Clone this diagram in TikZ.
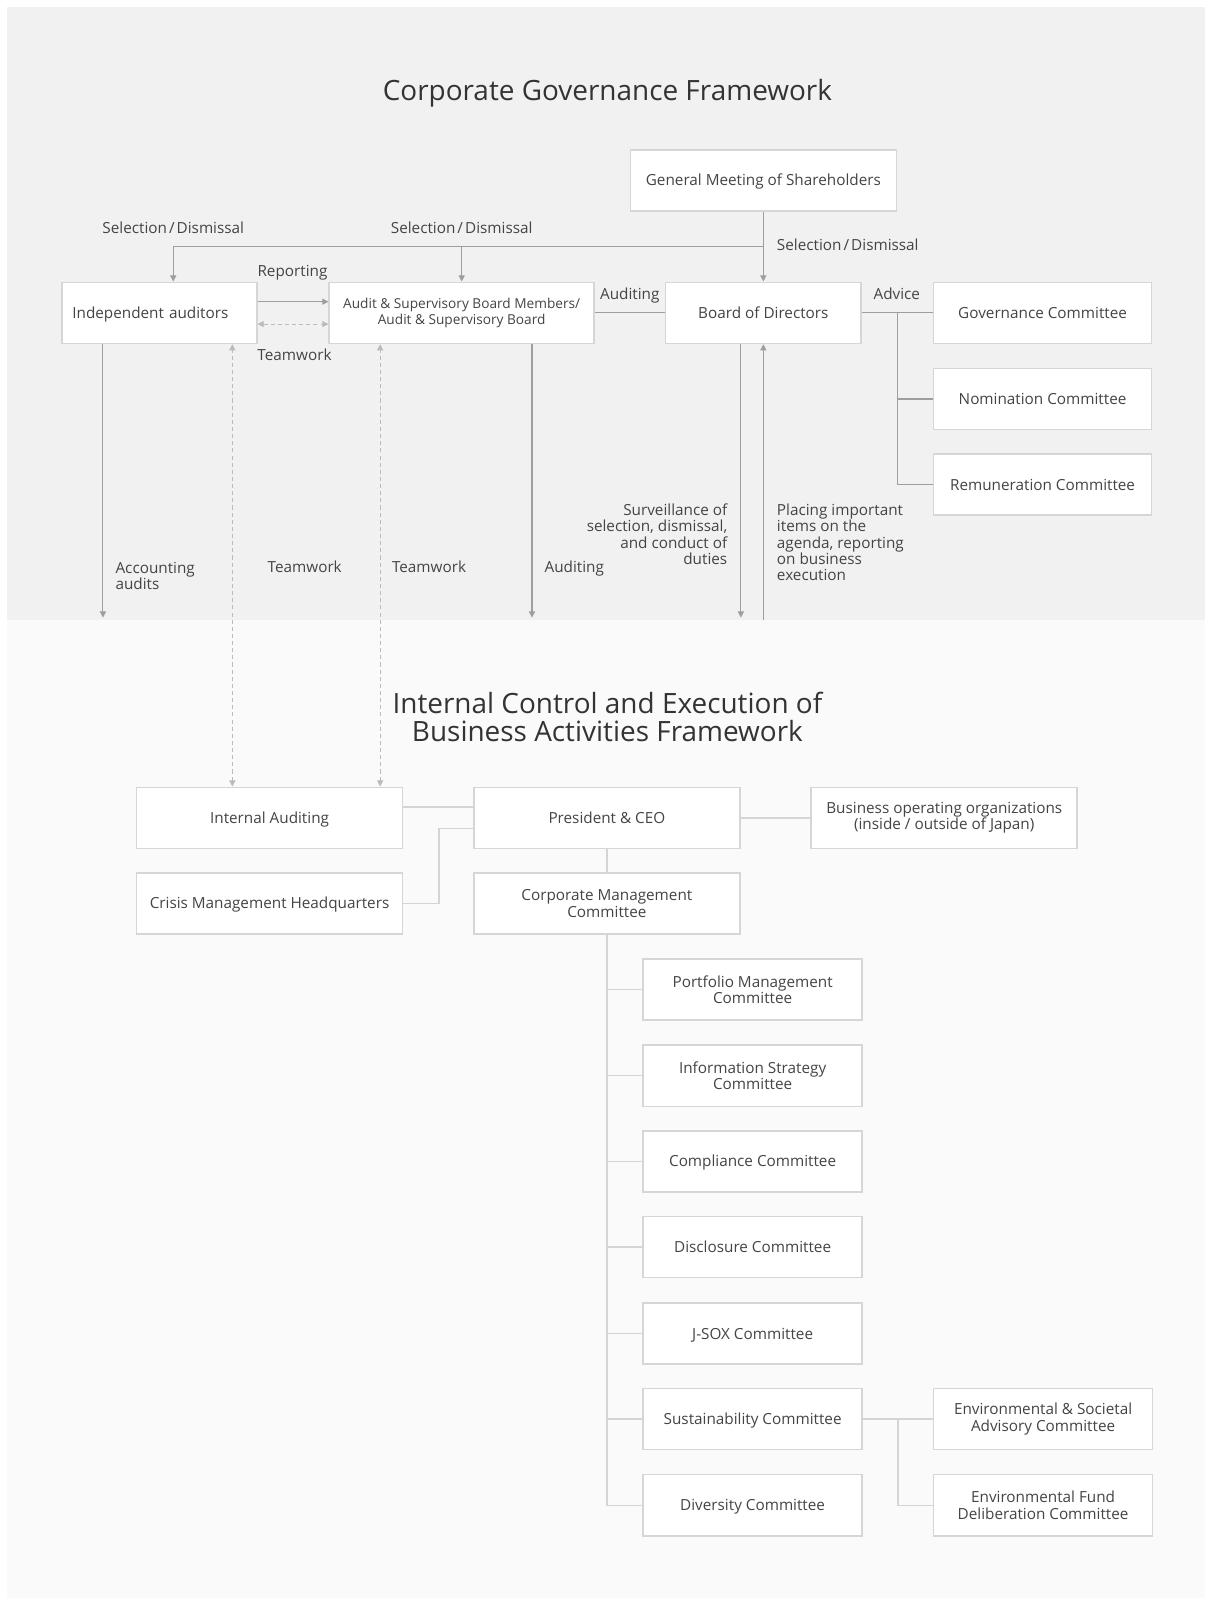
\documentclass[tikz,border=0pt]{standalone}
\usepackage{fontspec}
\setmainfont{Open Sans}
\usetikzlibrary{arrows.meta, calc}

\definecolor{topbg}{HTML}{F1F1F1}
\definecolor{lowbg}{HTML}{FAFAFA}
\definecolor{boxline}{HTML}{D6D6D6}
\definecolor{arrowgray}{HTML}{9E9E9E}
\definecolor{linkgray}{HTML}{D4D4D4}
\definecolor{dashgray}{HTML}{BBBBBB}
\definecolor{txt}{HTML}{444444}
\definecolor{titletxt}{HTML}{333333}

\newcommand{\boxfont}{\fontsize{7.5}{8}\selectfont}
\newcommand{\smallboxfont}{\fontsize{6.7}{8}\selectfont}
\newcommand{\titlefont}{\fontsize{13.7}{13.5}\selectfont}
\newcommand{\seldis}{Selection\kern1pt/\kern1pt Dismissal}

\begin{document}
\begin{tikzpicture}[x=0.5pt, y=-0.5pt,
  box/.style={draw=boxline, fill=white, line width=0.75pt, minimum width=130.5pt, minimum height=30pt, inner sep=2pt, align=center, text=txt, font=\boxfont},
  single/.style={text height=5.4pt, text depth=0pt},
  committee/.style={box, minimum width=107.5pt},
  lbl/.style={text=txt, font=\boxfont, inner sep=0pt},
  flow/.style={draw=arrowgray, line width=0.5pt, -{Triangle[length=3pt,width=3pt]}},
  plain/.style={draw=arrowgray, line width=0.5pt},
  link/.style={draw=linkgray, line width=0.75pt},
  team/.style={draw=dashgray, line width=0.5pt, dash pattern=on 2pt off 1.5pt, {Triangle[length=3pt,width=3pt]}-{Triangle[length=3pt,width=3pt]}}]

  % Backgrounds of the two frameworks
  \useasboundingbox (0,0) rectangle (1182,1568);
  \fill[topbg] (7,7) rectangle (1182,608);
  \fill[lowbg] (7,608) rectangle (1182,1568);
  \coordinate (edge) at (0,606);
  \coordinate (seam) at (0,608);

  % Titles
  \node[text=titletxt, font=\titlefont, anchor=base] (title1) at (596,99) {Corporate Governance Framework};
  \node[text=titletxt, font=\titlefont, anchor=north, align=center, inner sep=0pt] (title2) at (596,679) {Internal Control and Execution of\\Business Activities Framework};

  % Governance boxes
  \node[box, single] (gms) at (749,177) {General Meeting of Shareholders};
  \node[box, single, minimum width=95.5pt, text width=85.5pt, align=left, inner xsep=5pt] (ind) at (156.5,307) {Independent auditors};
  \node[box, font=\smallboxfont, minimum width=130pt] (asb) at (453,307) {Audit \& Supervisory Board Members/\\Audit \& Supervisory Board};
  \node[box, single, minimum width=96pt] (bod) at (749,307) {Board of Directors};
  \node[box, single, minimum width=107pt] (gov) at (1023,307) {Governance Committee};
  \node[box, single, minimum width=107pt] (nom) at (1023,391.5) {Nomination Committee};
  \node[box, single, minimum width=107pt] (rem) at (1023,475.5) {Remuneration Committee};

  % Execution boxes
  \node[box, single] (ia) at (264.5,802.5) {Internal Auditing};
  \node[box, single] (ceo) at (595.5,802.5) {President \& CEO};
  \node[box] (biz) at (926.5,802.5) {Business operating organizations\\(inside / outside of Japan)};
  \node[box, single] (crisis) at (264.5,886.5) {Crisis Management Headquarters};
  \node[box] (cmc) at (595.5,886.5) {Corporate Management\\Committee};

  % Committees under the Corporate Management Committee
  \node[committee] (port) at (738.5,971) {Portfolio Management\\Committee};
  \node[committee] (info) at (738.5,1055.5) {Information Strategy\\Committee};
  \node[committee, single] (comp) at (738.5,1139.5) {Compliance Committee};
  \node[committee, single] (disc) at (738.5,1223.5) {Disclosure Committee};
  \node[committee, single] (jsox) at (738.5,1308.5) {J-SOX Committee};
  \node[committee, single] (sust) at (738.5,1392.5) {Sustainability Committee};
  \node[committee, single] (div) at (738.5,1477) {Diversity Committee};
  \node[committee] (envsoc) at (1023.5,1392.5) {Environmental \& Societal\\Advisory Committee};
  \node[committee] (envfund) at (1023.5,1477) {Environmental Fund\\Deliberation Committee};

  % Selection / dismissal
  \coordinate (split) at ($(gms.south)!0.5!(bod.north)$);
  \draw[flow] (gms.south) -- (bod.north);
  \draw[flow] (split) -| ([xshift=6.75pt]ind.north);
  \draw[flow] (split -| asb.north) -- (asb.north);
  \node[lbl, anchor=base] (seldis1) at (170,229) {\seldis};
  \node[lbl, anchor=base] (seldis2) at (453,229) {\seldis};
  \node[lbl, anchor=base west] (seldis3) at (762,246) {\seldis};

  % Reporting and teamwork between the auditors
  \draw[flow] ([yshift=5.5pt]ind.east) -- ([yshift=5.5pt]ind.east -| asb.west);
  \draw[team] ([yshift=-5.5pt]ind.east) -- ([yshift=-5.5pt]ind.east -| asb.west);
  \node[lbl, anchor=base] (report) at (287,271) {Reporting};
  \node[lbl, anchor=base] (team1) at (289,354) {Teamwork};

  % Auditing and advice
  \draw[plain] (asb.east) -- (bod.west);
  \node[lbl, anchor=base] (audit1) at (618,294) {Auditing};
  \draw[plain] (bod.east) -- (gov.west);
  \coordinate (adv) at ($(bod.east)!0.5!(gov.west)$);
  \draw[plain] (adv) |- (nom.west);
  \draw[plain] (adv) |- (rem.west);
  \node[lbl, anchor=base] (advice) at (880,294) {Advice};

  % Lines down to the execution side
  \draw[flow] ([xshift=-27.75pt]ind.south) -- ([xshift=-27.75pt]ind.south |- edge);
  \node[lbl, anchor=north west, align=left] (accaud) at (113,551) {Accounting\\audits};
  \draw[team] ([xshift=-18.25pt]ia.north) -- ([xshift=-18.25pt]ia.north |- ind.south);
  \draw[team] ([xshift=54.25pt]ia.north) -- ([xshift=54.25pt]ia.north |- asb.south);
  \node[lbl, anchor=base] (team2) at (299,562) {Teamwork};
  \node[lbl, anchor=base] (team3) at (421,562) {Teamwork};
  \draw[flow] ([xshift=34.5pt]asb.south) -- ([xshift=34.5pt]asb.south |- edge);
  \node[lbl, anchor=base west] (audit2) at (534,562) {Auditing};
  \draw[flow] ([xshift=-11pt]bod.south) -- ([xshift=-11pt]bod.south |- edge);
  \node[lbl, anchor=north east, align=right] (surv) at (714,494) {Surveillance of\\selection, dismissal,\\and conduct of\\duties};
  \draw[flow] (bod.south |- seam) -- (bod.south);
  \node[lbl, anchor=north west, align=left] (agenda) at (762,494) {Placing important\\items on the\\agenda, reporting\\on business\\execution};

  % Execution links
  \draw[link] ([yshift=5.25pt]ia.east) -- ([yshift=5.25pt]ia.east -| ceo.west);
  \draw[link] (crisis.east) -- ++(17.5pt,0) |- ([yshift=-5.25pt]ceo.west);
  \draw[link] (ceo.south) -- (cmc.north);
  \draw[link] (ceo.east) -- (biz.west);
  \foreach \c in {port,info,comp,disc,jsox,sust,div}
    \draw[link] (cmc.south) |- (\c.west);
  \coordinate (sjoin) at ($(sust.east)!0.5!(envsoc.west)$);
  \draw[link] (sust.east) -- (envsoc.west);
  \draw[link] (sjoin) |- (envfund.west);

\end{tikzpicture}
\end{document}
